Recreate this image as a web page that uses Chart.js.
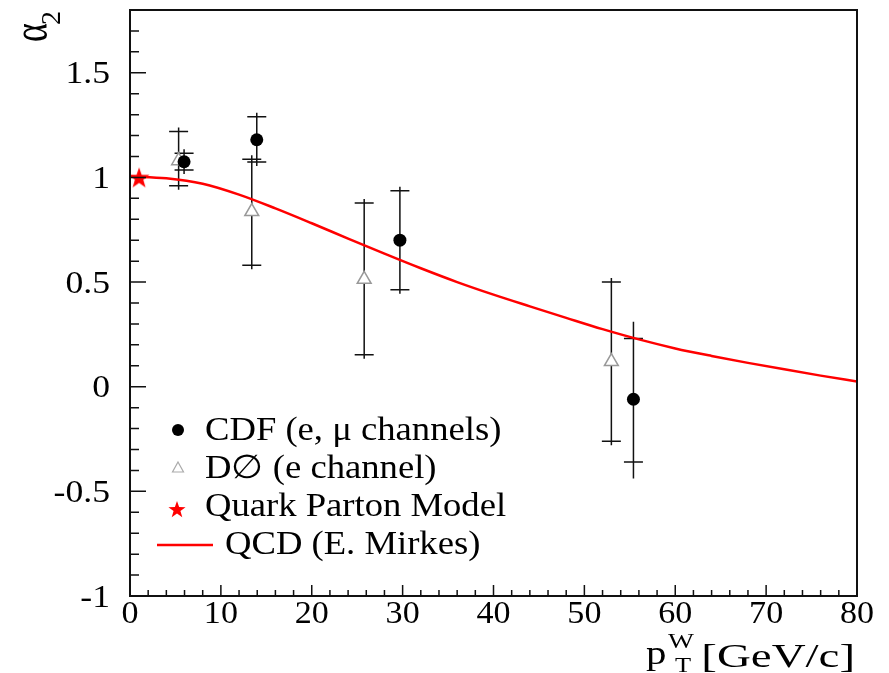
<!DOCTYPE html>
<html>
<head>
<meta charset="utf-8">
<script src="https://cdn.jsdelivr.net/npm/chart.js@4.4.1/dist/chart.umd.min.js"></script>
<style>
  html, body { margin: 0; padding: 0; background: #fff; }
  #wrap { width: 889px; height: 673px; }
</style>
</head>
<body>
<div id="wrap"><canvas id="chart-alpha2" width="889" height="673"></canvas></div>
<script>
// CDF (e, mu channels)
var cdfX = [5.95, 13.95, 29.7, 55.4];
var cdfY = [1.075, 1.18, 0.70, -0.06];
var cdfErrUp = [0.04, 0.11, 0.236, 0.29];
var cdfErrDown = [0.04, 0.106, 0.237, 0.30];
var cdfTotUp = [0.04, 0.11, 0.236, 0.37];
var cdfTotDown = [0.04, 0.106, 0.237, 0.378];

// D0 (e channel)
var d0X = [5.35, 13.4, 25.77, 52.97];
var d0Y = [1.08, 0.837, 0.513, 0.12];
var d0ErrUp = [0.14, 0.25, 0.365, 0.38];
var d0ErrDown = [0.12, 0.257, 0.36, 0.38];

// Quark Parton Model
var qpmX = [1.0];
var qpmY = [1.0];

// QCD (E. Mirkes)
var qcdX = [0, 4, 8, 12, 16, 20, 24, 28, 32, 36, 40, 44, 48, 52, 56, 60, 64, 68, 72, 76, 80];
var qcdY = [1.005, 0.996, 0.97, 0.918, 0.852, 0.781, 0.708, 0.636, 0.566, 0.50, 0.44, 0.384, 0.329, 0.275, 0.226, 0.183, 0.147, 0.114, 0.083, 0.053, 0.025];

var xTicks = [0, 10, 20, 30, 40, 50, 60, 70, 80];
var yTicks = [-1, -0.5, 0, 0.5, 1, 1.5];

var serif = "'Liberation Serif', 'DejaVu Serif', serif";

function pts(xs, ys) {
  return xs.map(function(x, i) { return { x: x, y: ys[i] }; });
}

function starPath(ctx, cx, cy, ro, ri) {
  ctx.beginPath();
  for (var i = 0; i < 10; i++) {
    var r = i % 2 ? ri : ro;
    var a = -Math.PI / 2 + i * Math.PI / 5;
    if (i === 0) ctx.moveTo(cx + r * Math.cos(a), cy + r * Math.sin(a));
    else ctx.lineTo(cx + r * Math.cos(a), cy + r * Math.sin(a));
  }
  ctx.closePath();
}

// wide text, the original font runs wider than Liberation Serif
function wideText(ctx, txt, x, y, sx, align) {
  ctx.save();
  ctx.translate(x, y);
  ctx.scale(sx, 1);
  ctx.textAlign = align || 'left';
  ctx.fillText(txt, 0, 0);
  ctx.restore();
}

// filled red star used as point style
var starImg = document.createElement('canvas');
starImg.width = 24; starImg.height = 24;
(function() {
  var c = starImg.getContext('2d');
  c.fillStyle = '#ff0000';
  starPath(c, 12, 13, 11, 4.4);
  c.fill();
})();

var frameAndBars = {
  id: 'frameAndBars',
  beforeDatasetsDraw: function(chart) {
    var ctx = chart.ctx, xs = chart.scales.x, ys = chart.scales.y;
    ctx.save();
    ctx.strokeStyle = '#111';
    ctx.lineWidth = 1.5;
    function bar(x, y, up, down, totUp, totDown, cap) {
      var px = xs.getPixelForValue(x);
      var pTop = ys.getPixelForValue(y + up);
      var pBot = ys.getPixelForValue(y - down);
      var lTop = Math.min(pTop - 4, ys.getPixelForValue(y + totUp));
      var lBot = Math.max(pBot + 4, ys.getPixelForValue(y - totDown));
      ctx.beginPath();
      ctx.moveTo(px, lTop); ctx.lineTo(px, lBot);
      ctx.moveTo(px - cap, pTop); ctx.lineTo(px + cap, pTop);
      ctx.moveTo(px - cap, pBot); ctx.lineTo(px + cap, pBot);
      ctx.stroke();
    }
    d0X.forEach(function(x, i) { bar(x, d0Y[i], d0ErrUp[i], d0ErrDown[i], d0ErrUp[i], d0ErrDown[i], 9.5); });
    cdfX.forEach(function(x, i) { bar(x, cdfY[i], cdfErrUp[i], cdfErrDown[i], cdfTotUp[i], cdfTotDown[i], 9.5); });
    ctx.restore();
  },
  afterDraw: function(chart) {
    var ctx = chart.ctx, a = chart.chartArea, xs = chart.scales.x, ys = chart.scales.y;
    ctx.save();
    // frame
    ctx.strokeStyle = '#111';
    ctx.lineWidth = 2;
    ctx.strokeRect(a.left, a.top, a.right - a.left, a.bottom - a.top);
    // inner ticks
    ctx.lineWidth = 1.5;
    ctx.beginPath();
    for (var v = 0; v <= 80.001; v += 2) {
      var px = xs.getPixelForValue(v);
      var len = Math.abs(v % 10) < 0.01 ? 11 : 6;
      ctx.moveTo(px, a.bottom); ctx.lineTo(px, a.bottom - len);
    }
    for (var k = -10; k <= 18; k++) {
      var py = ys.getPixelForValue(k / 10);
      var l2 = k % 5 === 0 ? 16 : 9;
      ctx.moveTo(a.left, py); ctx.lineTo(a.left + l2, py);
    }
    ctx.stroke();

    // tick labels
    ctx.fillStyle = '#000';
    ctx.font = '31px ' + serif;
    ctx.textBaseline = 'alphabetic';
    xTicks.forEach(function(t) {
      wideText(ctx, String(t), xs.getPixelForValue(t), 623, 1.1, 'center');
    });
    yTicks.forEach(function(t) {
      wideText(ctx, String(t), a.left - 20, ys.getPixelForValue(t) + 10.5, 1.15, 'right');
    });

    // legend
    ctx.font = '33px ' + serif;
    ctx.textBaseline = 'middle';
    ctx.beginPath(); ctx.arc(178, 430, 6, 0, Math.PI * 2); ctx.fill();
    wideText(ctx, 'CDF (e, \u03bc channels)', 205, 431, 1.11);
    ctx.strokeStyle = '#aaa'; ctx.lineWidth = 1.2;
    ctx.beginPath(); ctx.moveTo(178, 462); ctx.lineTo(183.5, 472); ctx.lineTo(172.5, 472); ctx.closePath(); ctx.stroke();
    wideText(ctx, 'D\u2205 (e channel)', 205, 469, 1.11);
    ctx.fillStyle = '#ff0000';
    starPath(ctx, 177, 510, 9, 3.6); ctx.fill();
    ctx.fillStyle = '#000';
    wideText(ctx, 'Quark Parton Model', 205, 507, 1.11);
    ctx.strokeStyle = '#ff0000'; ctx.lineWidth = 2.5;
    ctx.beginPath(); ctx.moveTo(157, 545); ctx.lineTo(213, 545); ctx.stroke();
    wideText(ctx, 'QCD (E. Mirkes)', 225, 545, 1.11);

    // x axis title
    ctx.textBaseline = 'alphabetic';
    ctx.font = '34px ' + serif;
    wideText(ctx, '[GeV/c]', 855, 667, 1.38, 'right');
    wideText(ctx, 'p', 646, 664, 1.2);
    ctx.font = '22px ' + serif;
    wideText(ctx, 'W', 668, 648, 1.25);
    wideText(ctx, 'T', 675, 672, 1.2);

    // y axis title, rotated
    ctx.translate(47, 42);
    ctx.rotate(-Math.PI / 2);
    ctx.save();
    ctx.scale(1, 1.4);
    ctx.font = '36px ' + serif;
    ctx.fillText('\u03b1', 0, 0);
    ctx.restore();
    ctx.font = '28px ' + serif;
    ctx.fillText('2', 17, 13);
    ctx.restore();
  }
};

var ctx = document.getElementById('chart-alpha2').getContext('2d');
var chart = new Chart(ctx, {
  type: 'scatter',
  plugins: [frameAndBars],
  data: {
    datasets: [
      {
        label: 'CDF (e, \u03bc channels)',
        data: pts(cdfX, cdfY),
        pointStyle: 'circle',
        pointRadius: 6.5,
        backgroundColor: '#000',
        borderColor: '#000',
        borderWidth: 0
      },
      {
        label: 'D\u2205 (e channel)',
        data: pts(d0X, d0Y),
        pointStyle: 'triangle',
        pointRadius: 8,
        backgroundColor: '#fff',
        borderColor: '#999',
        borderWidth: 1.5
      },
      {
        label: 'Quark Parton Model',
        data: pts(qpmX, qpmY),
        pointStyle: starImg
      },
      {
        label: 'QCD (E. Mirkes)',
        type: 'line',
        data: pts(qcdX, qcdY),
        showLine: true,
        borderColor: '#ff0000',
        borderWidth: 2.5,
        pointRadius: 0,
        fill: false,
        cubicInterpolationMode: 'monotone'
      }
    ]
  },
  options: {
    responsive: false,
    animation: false,
    layout: { padding: { left: 0, top: 10, right: 32, bottom: 0 } },
    plugins: { legend: { display: false }, tooltip: { enabled: false } },
    scales: {
      x: {
        type: 'linear',
        min: 0,
        max: 80,
        afterFit: function(scale) {
          scale.height = 77;
          scale.paddingLeft = 0; scale.paddingRight = 0;
        },
        grid: { display: false, drawTicks: false },
        border: { display: false },
        ticks: { display: false }
      },
      y: {
        type: 'linear',
        min: -1,
        max: 1.8,
        afterFit: function(scale) {
          scale.width = 130;
          scale.paddingTop = 0; scale.paddingBottom = 0;
        },
        grid: { display: false, drawTicks: false },
        border: { display: false },
        ticks: { display: false }
      }
    }
  }
});
</script>
</body>
</html>
